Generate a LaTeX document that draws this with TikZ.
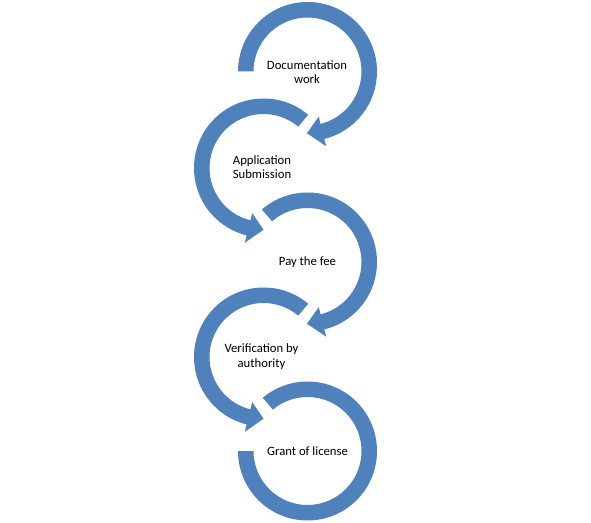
\documentclass[tikz,border=0pt]{standalone}
\usepackage{fontspec}
\setmainfont{Carlito}
\definecolor{arcblue}{RGB}{79,129,189}
\begin{document}
\begin{tikzpicture}[x=1pt,y=1pt,
  lbl/.style={font=\fontsize{12.7}{14.5}\selectfont, align=center, text=black, inner sep=0pt},
  ring/.style={fill=arcblue, draw=none}]
\useasboundingbox (0,0) rectangle (591,522);
\fill[white] (0,0) rectangle (591,522);
% arc 1 : clockwise, arrow at bottom
\begin{scope}[shift={(307.5,450.5)}]
\fill[ring] (180:69.5pt) arc[start angle=180,end angle=-76,radius=69.5pt]
  -- (-76:77pt) -- (-90.5:61.75pt) -- (-76:46.5pt) -- (-76:54pt)
  arc[start angle=-76,end angle=180,radius=54pt] -- cycle;
\end{scope}
% arc 2 : counter-clockwise
\begin{scope}[shift={(263.5,354)}]
\fill[ring] (50:69.5pt) arc[start angle=50,end angle=256,radius=69.5pt]
  -- (256:77pt) -- (270:61.75pt) -- (256:46.5pt) -- (256:54pt)
  arc[start angle=256,end angle=50,radius=54pt] -- cycle;
\end{scope}
% arc 3 : clockwise
\begin{scope}[shift={(307.5,260)}]
\fill[ring] (131:69.5pt) arc[start angle=131,end angle=-76,radius=69.5pt]
  -- (-76:77pt) -- (-90.5:61.75pt) -- (-76:46.5pt) -- (-76:54pt)
  arc[start angle=-76,end angle=131,radius=54pt] -- cycle;
\end{scope}
% arc 4 : counter-clockwise
\begin{scope}[shift={(263.5,165)}]
\fill[ring] (50:69.5pt) arc[start angle=50,end angle=256,radius=69.5pt]
  -- (256:77pt) -- (270:61.75pt) -- (256:46.5pt) -- (256:54pt)
  arc[start angle=256,end angle=50,radius=54pt] -- cycle;
\end{scope}
% arc 5 : no arrow
\begin{scope}[shift={(307.5,71)}]
\fill[ring] (180:69.5pt) arc[start angle=180,end angle=490,radius=69.5pt]
  -- (490:54pt) arc[start angle=490,end angle=180,radius=54pt] -- cycle;
\end{scope}
\node[lbl] (t1) at (307,450) {Documentation\\work};
\node[lbl] (t2) at (262,355) {Application\\Submission};
\node[lbl] (t3) at (307.5,260) {Pay the fee};
\node[lbl] (t4) at (261.5,165.5) {Verification by\\authority};
\node[lbl] (t5) at (307.5,71) {Grant of license};
\end{tikzpicture}
\end{document}
